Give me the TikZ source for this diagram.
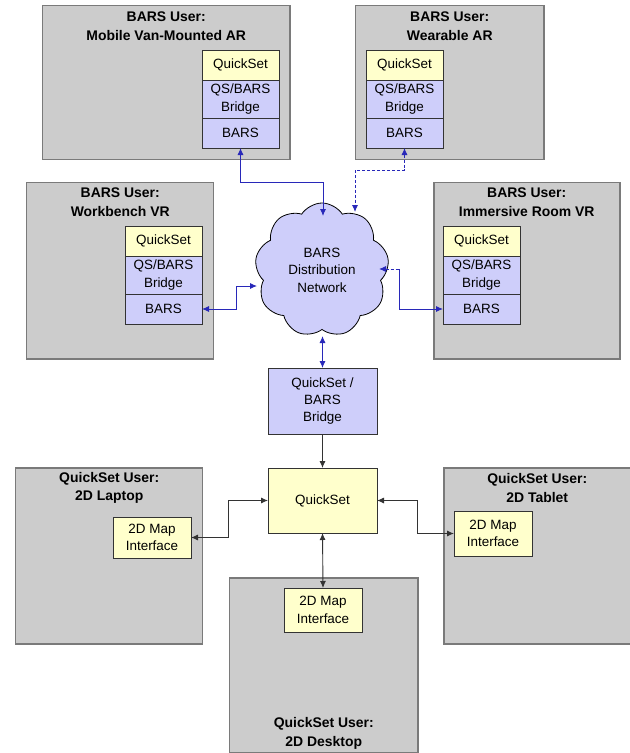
\documentclass[tikz,border=0pt]{standalone}
\usepackage{fontspec}
\setmainfont{Liberation Sans}
\usepackage{xcolor}
\usetikzlibrary{shapes.symbols, arrows, arrows.meta, positioning}
\definecolor{usergray}{RGB}{204,204,204}
\definecolor{userframe}{RGB}{122,122,122}
\definecolor{qsyellow}{RGB}{255,255,204}
\definecolor{barsblue}{RGB}{206,206,250}
\definecolor{linkblue}{RGB}{40,40,185}
\tikzstyle{userbox} = [rectangle, draw=userframe, line width=1.5pt, fill=usergray, anchor=north west, inner sep=0pt]
\tikzstyle{usertitle} = [font=\fontsize{14}{18.5}\selectfont\bfseries, inner sep=0pt]
\tikzstyle{cell} = [rectangle, draw=black!80, line width=0.8pt, minimum width=77bp, minimum height=30bp, inner sep=1pt, outer sep=0pt, font=\fontsize{13.5}{17.5}\selectfont]
\tikzstyle{qscell} = [cell, fill=qsyellow]
\tikzstyle{barscell} = [cell, fill=barsblue]
\tikzstyle{mapbox} = [qscell, anchor=north west, minimum width=78bp, minimum height=43bp]
\tikzstyle{blink} = [line width=0.9pt, draw=linkblue, <->, >={Latex[length=7bp, width=6bp]}]
\tikzstyle{klink} = [line width=0.9pt, draw=black!80, <->, >={Latex[length=7bp, width=6bp]}]
\tikzset{every node/.style={align=center}}

\begin{document}
\begin{tikzpicture}[x=1bp, y=-1bp]
    \useasboundingbox (0,0) rectangle (630,753);

    % BARS users
    \node (van)   [userbox, minimum width=247bp, minimum height=154bp] at (42,5) {};
    \node (wear)  [userbox, minimum width=188bp, minimum height=154bp] at (355,5) {};
    \node (bench) [userbox, minimum width=187bp, minimum height=176bp] at (26,182) {};
    \node (room)  [userbox, minimum width=186bp, minimum height=176bp] at (433,182) {};
    \node (vantitle)   [usertitle] at ([yshift=-21bp]van.north)   {BARS User:\\Mobile Van-Mounted AR};
    \node (weartitle)  [usertitle] at ([yshift=-21bp]wear.north)  {BARS User:\\Wearable AR};
    \node (benchtitle) [usertitle] at ([yshift=-20bp]bench.north) {BARS User:\\Workbench VR};
    \node (roomtitle)  [usertitle] at ([yshift=-20bp]room.north)  {BARS User:\\Immersive Room VR};

    \node (vanqs)       [qscell, anchor=north west] at (202,50) {QuickSet};
    \node (vanbridge)   [barscell, below=0pt of vanqs, minimum height=38bp] {QS/BARS\\Bridge};
    \node (vanbars)     [barscell, below=0pt of vanbridge] {BARS};
    \node (wearqs)      [qscell, anchor=north west] at (366,50) {QuickSet};
    \node (wearbridge)  [barscell, below=0pt of wearqs, minimum height=38bp] {QS/BARS\\Bridge};
    \node (wearbars)    [barscell, below=0pt of wearbridge] {BARS};
    \node (benchqs)     [qscell, anchor=north west] at (125,226) {QuickSet};
    \node (benchbridge) [barscell, below=0pt of benchqs, minimum height=38bp] {QS/BARS\\Bridge};
    \node (benchbars)   [barscell, below=0pt of benchbridge] {BARS};
    \node (roomqs)      [qscell, anchor=north west] at (443,226) {QuickSet};
    \node (roombridge)  [barscell, below=0pt of roomqs, minimum height=38bp] {QS/BARS\\Bridge};
    \node (roombars)    [barscell, below=0pt of roombridge] {BARS};

    % network and bridge
    \node (net) [cloud, cloud puffs=9, cloud puff arc=115, aspect=1, draw=black, line width=0.8pt, fill=barsblue, minimum width=134bp, minimum height=134bp, font=\fontsize{13.5}{17.5}\selectfont] at (322,270) {BARS\\Distribution\\Network};
    \node (bridge) [barscell, anchor=north west, minimum width=109bp, minimum height=66bp] at (268,368) {QuickSet /\\BARS\\Bridge};
    \node (qs)     [qscell, anchor=north west, minimum width=109bp, minimum height=65bp] at (268,468) {QuickSet};

    % QuickSet users
    \node (laptop)  [userbox, minimum width=187bp, minimum height=176bp] at (15,467) {};
    \node (tablet)  [userbox, minimum width=187bp, minimum height=176bp] at (443,467) {};
    \node (desktop) [userbox, minimum width=188bp, minimum height=175bp] at (229,577) {};
    \node (laptoptitle)  [usertitle] at ([yshift=-21bp]laptop.north)   {QuickSet User:\\2D Laptop};
    \node (tablettitle)  [usertitle] at ([yshift=-21bp]tablet.north)   {QuickSet User:\\2D Tablet};
    \node (desktoptitle) [usertitle] at ([yshift=20bp]desktop.south)   {QuickSet User:\\2D Desktop};
    \node (lapmap)  [mapbox, minimum height=41bp] at (113,517) {2D Map\\Interface};
    \node (tabmap)  [mapbox, minimum height=45bp] at (454,511) {2D Map\\Interface};
    \node (deskmap) [mapbox, minimum height=44bp] at (284,588) {2D Map\\Interface};

    % BARS links
    \coordinate (netright) at ([shift={(57,-1)}]net.center);
    \coordinate (roomturn) at ([xshift=20bp]netright);
    \draw [blink] (vanbars.south) -- ++(0,34) -| ([shift={(1,-54)}]net.center);
    \draw [blink, densely dashed] (wearbars.south) -- ++(0,22) -| ([shift={(33,-58)}]net.center);
    \draw [blink] (benchbars.east) -- ++(34,0) |- ([shift={(-65,16)}]net.center);
    \draw [blink, densely dashed, <-] (netright) -- (roomturn);
    \draw [blink, ->] (roomturn) |- (roombars.west);
    \draw [blink] ([shift={(0.5,66)}]net.center) -- (bridge.north);

    % QuickSet links
    \draw [klink, ->] (bridge.south) -- (qs.north);
    \draw [klink] (lapmap.east) -- ++(37,0) |- (qs.west);
    \draw [klink] (qs.east) -- ++(40,0) |- (tabmap.west);
    \draw [klink] (qs.south) -- (deskmap.north);
\end{tikzpicture}
\end{document}
